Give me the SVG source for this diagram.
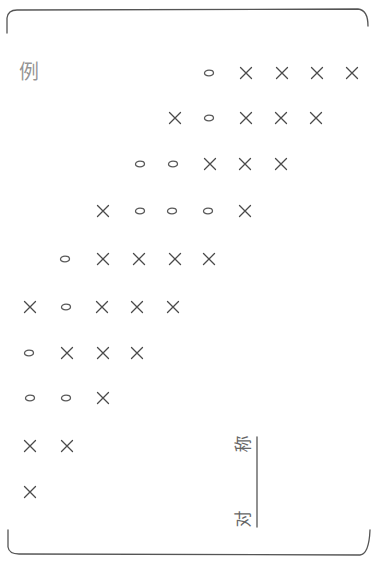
<svg xmlns="http://www.w3.org/2000/svg" xmlns:xlink="http://www.w3.org/1999/xlink" width="373" height="561" viewBox="0 0 373 561">
<style>
.x{stroke:#4a4a4a;stroke-width:1.3;fill:none;stroke-linecap:round}
.o{stroke:#5a5a5a;stroke-width:1.3;fill:none}
.frame{stroke:#555;stroke-width:1.3;fill:none;stroke-linecap:round}
.lbl{font-family:"Noto Sans CJK SC","Noto Sans CJK JP",sans-serif;fill:#666}
</style>
<defs>
<g id="X"><path class="x" d="M-5.5,-5.5L5.5,5.5M5.5,-5.5L-5.5,5.5"/></g>
<g id="O"><ellipse class="o" cx="0" cy="0" rx="4.5" ry="2.8"/></g>
</defs>
<rect width="373" height="561" fill="#fff"/>
<g id="frame">
<path class="frame" d="M7,33 L7,18 Q8,10 17,10 L358,9 Q368,10 368,26"/>
<path class="frame" d="M8,530 L8,547 Q9,554 19,554 L360,555 Q369,554 370,530"/>
</g>
<g id="label-example"><text class="lbl" x="19" y="79" font-size="20" fill-opacity="0.7">例</text></g>
<g id="label-symmetry">
<text class="lbl" font-size="17" text-anchor="middle" transform="translate(249,519) rotate(-90)">对</text>
<text class="lbl" font-size="17" text-anchor="middle" transform="translate(249,444) rotate(-90)">称</text>
<line class="frame" x1="257" y1="437" x2="257" y2="527" stroke-width="1"/>
</g>
<g id="row0"><use xlink:href="#O" x="209" y="73"/><use xlink:href="#X" x="246" y="73"/><use xlink:href="#X" x="282" y="73"/><use xlink:href="#X" x="317" y="73"/><use xlink:href="#X" x="352" y="73"/></g>
<g id="row1"><use xlink:href="#X" x="175" y="118"/><use xlink:href="#O" x="209" y="118"/><use xlink:href="#X" x="246" y="118"/><use xlink:href="#X" x="281" y="118"/><use xlink:href="#X" x="316" y="118"/></g>
<g id="row2"><use xlink:href="#O" x="140" y="164"/><use xlink:href="#O" x="173" y="164"/><use xlink:href="#X" x="210" y="164"/><use xlink:href="#X" x="245" y="164"/><use xlink:href="#X" x="281" y="164"/></g>
<g id="row3"><use xlink:href="#X" x="103" y="211"/><use xlink:href="#O" x="140" y="211"/><use xlink:href="#O" x="172" y="211"/><use xlink:href="#O" x="208" y="211"/><use xlink:href="#X" x="245" y="211"/></g>
<g id="row4"><use xlink:href="#O" x="65" y="259"/><use xlink:href="#X" x="103" y="259"/><use xlink:href="#X" x="139" y="259"/><use xlink:href="#X" x="175" y="259"/><use xlink:href="#X" x="209" y="259"/></g>
<g id="row5"><use xlink:href="#X" x="30" y="307"/><use xlink:href="#O" x="66" y="307"/><use xlink:href="#X" x="102" y="307"/><use xlink:href="#X" x="137" y="307"/><use xlink:href="#X" x="173" y="307"/></g>
<g id="row6"><use xlink:href="#O" x="29" y="353"/><use xlink:href="#X" x="67" y="353"/><use xlink:href="#X" x="103" y="353"/><use xlink:href="#X" x="137" y="353"/></g>
<g id="row7"><use xlink:href="#O" x="30" y="398"/><use xlink:href="#O" x="66" y="398"/><use xlink:href="#X" x="103" y="398"/></g>
<g id="row8"><use xlink:href="#X" x="30" y="446"/><use xlink:href="#X" x="67" y="446"/></g>
<g id="row9"><use xlink:href="#X" x="30" y="492"/></g>
</svg>
